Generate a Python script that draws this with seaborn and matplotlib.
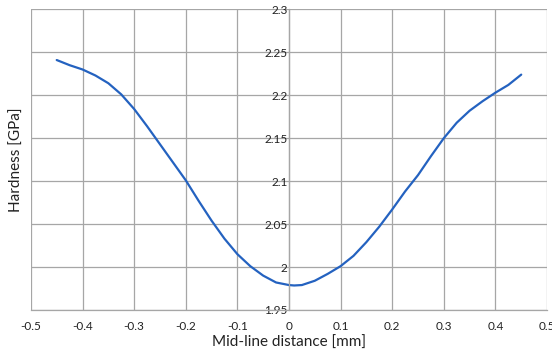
import matplotlib
matplotlib.use('Agg')
import matplotlib.pyplot as plt
import seaborn as sns
import pandas as pd

# values
distance_mm = [-0.450, -0.425, -0.400, -0.375, -0.350, -0.325, -0.300, -0.275,
               -0.250, -0.225, -0.200, -0.175, -0.150, -0.125, -0.100, -0.075,
               -0.050, -0.025, 0.000, 0.010, 0.025, 0.050, 0.075, 0.100, 0.125,
               0.150, 0.175, 0.200, 0.225, 0.250, 0.275, 0.300, 0.325, 0.350,
               0.375, 0.400, 0.425, 0.450]
hardness_gpa = [2.241, 2.235, 2.230, 2.223, 2.214, 2.201, 2.184, 2.164,
                2.143, 2.122, 2.101, 2.077, 2.054, 2.033, 2.015, 2.001,
                1.990, 1.982, 1.979, 1.9785, 1.979, 1.984, 1.992, 2.001, 2.013,
                2.029, 2.047, 2.067, 2.088, 2.107, 2.129, 2.150, 2.168, 2.182,
                2.193, 2.203, 2.212, 2.224]

x_ticks = [-0.5, -0.4, -0.3, -0.2, -0.1, 0, 0.1, 0.2, 0.3, 0.4, 0.5]
x_tick_labels = ['-0.5', '-0.4', '-0.3', '-0.2', '-0.1', '0', '0.1', '0.2', '0.3', '0.4', '0.5']
y_ticks = [1.95, 2.0, 2.05, 2.1, 2.15, 2.2, 2.25, 2.3]
y_tick_labels = ['1.95', '2', '2.05', '2.1', '2.15', '2.2', '2.25', '2.3']

df = pd.DataFrame({'distance': distance_mm, 'hardness': hardness_gpa})

sns.set_style('whitegrid')
plt.rcParams['font.family'] = ['Lato', 'DejaVu Sans']

fig = plt.figure(figsize=(5.52, 3.6), dpi=100)
ax = fig.add_axes([0.056, 0.139, 0.935, 0.835])

grid_color = '#a6a6a6'

sns.lineplot(data=df, x='distance', y='hardness', ax=ax,
             color='#2462c0', linewidth=1.6, solid_joinstyle='round',
             solid_capstyle='round')

ax.set_xlim(-0.5, 0.5)
ax.set_ylim(1.95, 2.3)
ax.set_xticks(x_ticks)
ax.set_xticklabels(x_tick_labels)
ax.set_yticks(y_ticks)
ax.set_yticklabels(y_tick_labels)

ax.grid(True, color=grid_color, linewidth=0.9)

# y axis crosses at x = 0, like the spreadsheet chart
for side in ['top', 'right']:
    ax.spines[side].set_visible(False)
ax.spines['left'].set_position(('data', 0))
ax.spines['left'].set_color(grid_color)
ax.spines['left'].set_linewidth(0.9)
ax.spines['bottom'].set_color(grid_color)
ax.spines['bottom'].set_linewidth(0.9)

ax.tick_params(axis='y', length=0, pad=1, labelsize=8.5, labelcolor='#222222')
ax.tick_params(axis='x', length=4, width=0.9, color=grid_color, pad=4,
               labelsize=8.5, labelcolor='#222222')

ax.set_xlabel('Mid-line distance [mm]', fontsize=11, color='#222222', labelpad=3)
ax.set_ylabel('Hardness [GPa]', fontsize=11, color='#222222')
ax.yaxis.set_label_coords(-0.014, 0.5)

fig.savefig('out.png', dpi=100)
plt.close(fig)
